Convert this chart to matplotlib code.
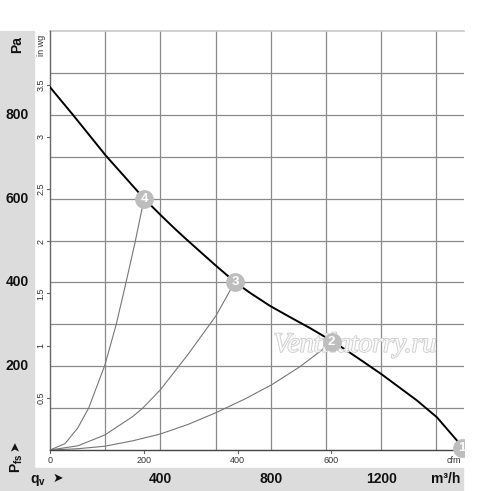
import matplotlib
matplotlib.use("Agg")
import matplotlib.pyplot as plt
from matplotlib.patches import Rectangle
import matplotlib.patheffects as pe

# fan curve (m3/h, Pa)
fan_q = [0, 83, 203, 341, 402, 446, 482, 543, 601, 670, 725, 797, 870, 942,
         1004, 1051, 1130, 1203, 1330, 1402, 1478, 1493]
fan_p = [866, 800, 702, 600, 560, 532, 510, 474, 440, 401, 375, 344, 317, 291,
         267, 248, 213, 180, 118, 78, 20, 4]

# system curves through operating points
sys4_q = [0, 54, 100, 140, 199, 240, 272, 308, 341]
sys4_p = [0, 15, 52, 100, 203, 300, 390, 495, 600]
sys3_q = [0, 101, 199, 300, 336, 399, 500, 601, 652, 670]
sys3_p = [0, 10, 36, 80, 100, 143, 228, 320, 380, 400]
sys2_q = [0, 100, 199, 300, 399, 500, 601, 707, 804, 906, 1004, 1020]
sys2_p = [0, 3, 9, 22, 38, 61, 89, 122, 156, 199, 248, 258]

pt_labels = ['4', '3', '2', '1']
pt_q = [341, 670, 1020, 1493]
pt_p = [600, 400, 258, 4]

pa_ticks = [200, 400, 600, 800]
inwg_ticks = [0.5, 1, 1.5, 2, 2.5, 3, 3.5]
inwg_labels = ['0.5', '1', '1.5', '2', '2.5', '3', '3.5']
cfm_ticks = [0, 200, 400, 600]
m3h_ticks = [400, 800, 1200]

W, H = 500, 491
fig = plt.figure(figsize=(W / 100, H / 100), dpi=100)
plt.rcParams['font.family'] = ['Liberation Sans', 'DejaVu Sans']

def fx(x):
    return x / W
def fy(y):
    return 1 - y / H

band = '#dcdcdc'
fig.patches.append(Rectangle((0, 0), fx(34), fy(31), transform=fig.transFigure,
                             color=band, zorder=0))
fig.patches.append(Rectangle((0, 0), fx(463), 23 / H, transform=fig.transFigure,
                             color=band, zorder=0))

ax = fig.add_axes([fx(50), fy(450), (464 - 50) / W, (450 - 31) / H])
ax.set_xlim(0, 1500)
ax.set_ylim(0, 1000)
ax.set_facecolor('none')
for s in ['right', 'top']:
    ax.spines[s].set_visible(False)
ax.spines['left'].set_color('#666666')
ax.spines['bottom'].set_color('#444444')
ax.spines['left'].set_linewidth(1.0)
ax.spines['bottom'].set_linewidth(1.0)
ax.set_xticks([])
ax.set_yticks([])

grid_c = '#8a8a8a'
for q in range(200, 1500, 200):
    ax.axvline(q, color=grid_c, lw=0.9, zorder=1)
for p in range(100, 1000, 100):
    ax.axhline(p, color=grid_c, lw=0.9, zorder=1)
ax.axhline(1000, color='#c8c8c8', lw=1.2, zorder=1, clip_on=False)

# in wg ticks on left side
inwg_pa = 249.089
for v, lab in zip(inwg_ticks, inwg_labels):
    p = v * inwg_pa
    ax.plot([-10, 0], [p, p], color='#666666', lw=0.8, clip_on=False)
    ax.text(-32, p, lab, rotation=90, ha='center', va='center', fontsize=6.5,
            color='#333333', clip_on=False)
ax.text(-32, 965, 'in wg', rotation=90, ha='center', va='center', fontsize=6.5,
        color='#333333')

# cfm ticks on bottom
cfm_m3h = 1.699
for c in cfm_ticks:
    q = c * cfm_m3h
    ax.plot([q, q], [0, -8], color='#666666', lw=0.8, clip_on=False)
    ax.text(q, -24, str(c), ha='center', va='center', fontsize=6.5, color='#333333')
ax.text(1465, -24, 'cfm', ha='center', va='center', fontsize=6.5, color='#333333')

# system curves
for qs, ps in [(sys4_q, sys4_p), (sys3_q, sys3_p), (sys2_q, sys2_p)]:
    ax.plot(qs, ps, color='#777777', lw=0.8, zorder=2)

ax.plot(fan_q, fan_p, color='black', lw=1.4, zorder=3)

ax.text(1105, 250, 'Ventilatorry.ru', fontsize=20, style='italic',
        family=['Liberation Serif', 'DejaVu Serif'], color='white', ha='center', va='center',
        zorder=3.5, alpha=0.85,
        path_effects=[pe.withStroke(linewidth=1.2, foreground='#c4c4c4')])

clip = Rectangle((0, -0.05), 1.0, 1.1, transform=ax.transAxes, facecolor='none')
for lab, q, p in zip(pt_labels, pt_q, pt_p):
    m, = ax.plot([q], [p], 'o', ms=12.5, color='#bdbdbd', mec='#bdbdbd', zorder=4,
                 clip_on=True)
    m.set_clip_path(clip)
    t = ax.text(q, p, lab, ha='center', va='center', fontsize=9.5, fontweight='bold',
                color='white', zorder=6)
    t.set_clip_path(clip)

# band labels
bold = dict(fontweight='bold', fontsize=10, color='#111111', ha='center', va='center')
fig.text(fx(17), fy(45), 'Pa', rotation=90, **bold)
for p in pa_ticks:
    fig.text(fx(17), fy(450 - p * 0.419), str(p), **bold)
fig.text(fx(17), fy(463), r'P$_{\mathregular{fs}}$', rotation=90, **bold)
fig.text(fx(16), fy(446), '➤', rotation=90, fontsize=9, color='#111111',
         ha='center', va='center')

fig.text(fx(38), fy(480), r'q$_{\mathregular{v}}$', **bold)
fig.text(fx(58), fy(479), '➤', fontsize=9, color='#111111', ha='center', va='center')
for q in m3h_ticks:
    fig.text(fx(50 + q * 0.276), fy(479), str(q), **bold)
fig.text(fx(446), fy(479), 'm³/h', **bold)

fig.savefig('out.png', dpi=100)
